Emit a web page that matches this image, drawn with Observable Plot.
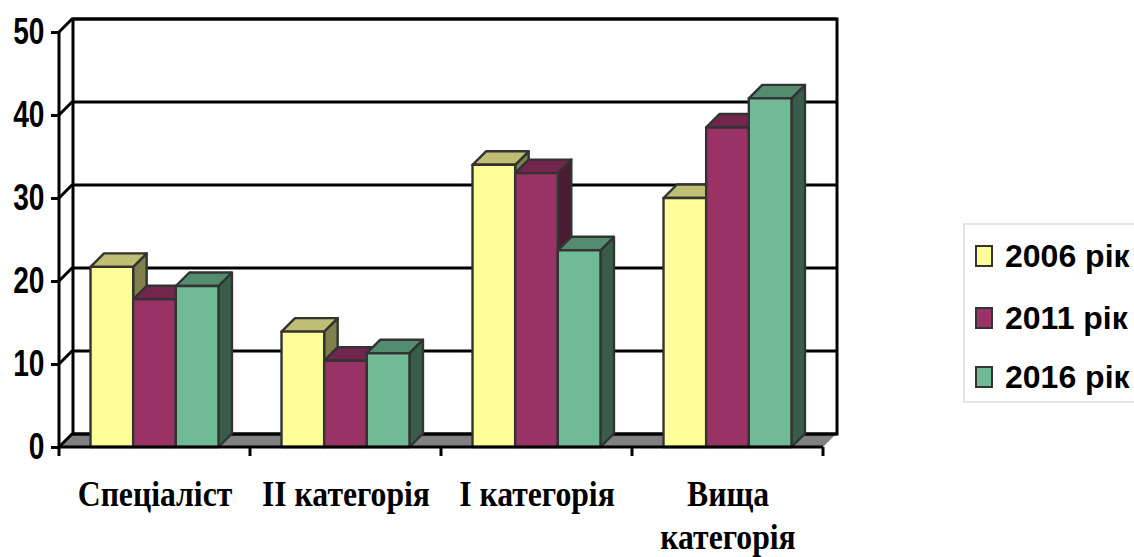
<!DOCTYPE html>
<html>
<head>
<meta charset="utf-8">
<script src="https://cdn.jsdelivr.net/npm/d3@7"></script>
<script src="https://cdn.jsdelivr.net/npm/@observablehq/plot@0.6"></script>
<style>
  html, body { margin: 0; padding: 0; background: #fff; }
  body { width: 1134px; height: 557px; overflow: hidden; position: relative; font-family: "Liberation Sans", Arial, sans-serif; }
  #chart { position: absolute; left: 0; top: 0; }
  #legend { position: absolute; left: 963px; top: 223px; width: 190px; height: 176px; border: 2px solid #e4e4e4; background: #fff; }
  .item { position: absolute; left: 10px; display: flex; align-items: center; height: 34px; }
  .sw { width: 14px; height: 18px; border: 2px solid #333; margin-right: 12px; flex: none; }
  .lab { font-weight: bold; font-size: 32px; color: #000; white-space: nowrap; line-height: 34px; }
</style>
</head>
<body>
<div id="chart"></div>
<div id="legend"></div>
<script>
// ---- data ----
const categories = ["Спеціаліст", "II категорія", "І категорія", "Вища категорія"];
const xLabels = ["Спеціаліст", "II категорія", "І категорія", "Вища\nкатегорія"];
const years = ["2006 рік", "2011 рік", "2016 рік"];
const v2006 = [21.7, 13.9, 34.0, 30.0];
const v2011 = [17.8, 10.4, 33.0, 38.5];
const v2016 = [19.4, 11.3, 23.7, 42.0];
const yTicks = [0, 10, 20, 30, 40, 50];

// ---- style ----
const frontColors = ["#FFFF99", "#993366", "#70BB95"];
const topColors = ["#BFBF73", "#73264D", "#548C70"];
const sideColors = ["#80804C", "#4D1A33", "#385E4B"];
const D = 13.5;          // 3D depth (px)
const BAR = 0.2233;      // bar width as fraction of band
const PADL = 0.165;      // left padding as fraction of band

const series = [v2006, v2011, v2016];
const rows = [];
categories.forEach((c, ci) => series.forEach((s, si) => rows.push({category: c, year: years[si], si, value: s[ci]})));

function bandw(scales, dims) {
  return scales.x.bandwidth ? scales.x.bandwidth() : (dims.width - dims.marginLeft - dims.marginRight) / categories.length;
}

// floor and depth diagonals
function scene(index, scales, values, dims) {
  const {width, marginLeft: ml, marginRight: mr} = dims;
  const y = scales.y;
  const x0 = ml, x1 = width - mr, yb = y(0);
  const g = d3.create("svg:g");
  g.append("path").attr("fill", "#808080")
    .attr("d", `M${x0},${yb}L${x1},${yb}L${x1 + D},${yb - D}L${x0 + D},${yb - D}Z`);
  for (const t of yTicks) {
    g.append("line").attr("x1", x0).attr("y1", y(t)).attr("x2", x0 + D).attr("y2", y(t) - D)
      .attr("stroke", "#000").attr("stroke-width", 3);
  }
  return g.node();
}

// front axis lines and category boundary ticks
function frontAxes(index, scales, values, dims) {
  const {width, marginLeft: ml, marginRight: mr} = dims;
  const y = scales.y;
  const x0 = ml, x1 = width - mr, yb = y(0);
  const g = d3.create("svg:g").attr("stroke", "#000").attr("stroke-width", 3);
  g.append("line").attr("x1", x0).attr("x2", x0).attr("y1", y(50)).attr("y2", yb + 1.5);
  g.append("line").attr("x1", x0).attr("x2", x1).attr("y1", yb).attr("y2", yb);
  categories.forEach((c) => {
    const xs = scales.x(c);
    g.append("line").attr("x1", xs).attr("x2", xs).attr("y1", yb).attr("y2", yb + 9);
  });
  g.append("line").attr("x1", x1).attr("x2", x1).attr("y1", yb).attr("y2", yb + 9);
  return g.node();
}

function prisms(index, scales, values, dims) {
  const bw = bandw(scales, dims);
  const geo = r => {
    const xl = scales.x(r.category) + bw * PADL + r.si * bw * BAR;
    return {xl, xr: xl + bw * BAR, yt: scales.y(r.value), yb: scales.y(0)};
  };
  const g = d3.create("svg:g").attr("stroke", "#333").attr("stroke-width", 2.4).attr("stroke-linejoin", "round");
  for (const r of rows) {
    const {xr, yt, yb} = geo(r);
    g.append("path").attr("fill", sideColors[r.si])
      .attr("d", `M${xr},${yb}L${xr},${yt}L${xr + D},${yt - D}L${xr + D},${yb - D}Z`);
  }
  for (const r of rows) {
    const {xl, xr, yt} = geo(r);
    g.append("path").attr("fill", topColors[r.si])
      .attr("d", `M${xl},${yt}L${xr},${yt}L${xr + D},${yt - D}L${xl + D},${yt - D}Z`);
  }
  for (const r of rows) {
    const {xl, xr, yt, yb} = geo(r);
    g.append("rect").attr("fill", frontColors[r.si])
      .attr("x", xl).attr("y", yt).attr("width", xr - xl).attr("height", yb - yt);
  }
  return g.node();
}

const chart = Plot.plot({
  width: 860,
  height: 557,
  marginLeft: 59,
  marginRight: 37,
  marginTop: 32,
  marginBottom: 110,
  x: {type: "band", domain: categories, padding: 0, label: null},
  y: {type: "linear", domain: [0, 50], label: null},
  marks: [
    scene,
    Plot.ruleY(yTicks, {dx: D, dy: -D, stroke: "#000", strokeWidth: 3}),
    Plot.frame({dx: D, dy: -D, stroke: "#000", strokeWidth: 3}),
    prisms,
    frontAxes,
    Plot.axisY({ticks: yTicks, tickSize: 8, tickPadding: 7, tickFormat: d => String(d), fontSize: 37, fontWeight: "bold", fontFamily: "Liberation Sans", label: null, strokeWidth: 3}),
    Plot.axisX({tickSize: 0, tickPadding: 29, tickFormat: (d) => xLabels[categories.indexOf(d)], fontSize: 36, fontWeight: "bold", fontFamily: "Liberation Serif", lineHeight: 1.17, label: null})
  ]
});

document.getElementById("chart").append(chart);

// text styling / horizontal compression as in reference
function squeeze(el, s) {
  const t = el.getAttribute("transform");
  if (t) el.setAttribute("transform", t + ` scale(${s},1)`);
  else {
    const x = +el.getAttribute("x") || 0, y = +el.getAttribute("y") || 0;
    el.removeAttribute("x"); el.removeAttribute("y");
    el.setAttribute("transform", `translate(${x},${y}) scale(${s},1)`);
  }
}
const root = d3.select(chart);
root.selectAll('g[aria-label="y-axis tick label"] text').each(function() {
  this.style.fontSize = "37px"; this.style.fontWeight = "bold"; this.style.fontFamily = "'Liberation Sans', Arial, sans-serif"; this.style.fill = "#000";
  squeeze(this, 0.76);
});
root.selectAll('g[aria-label="x-axis tick label"] text').each(function() {
  this.style.fontSize = "36px"; this.style.fontWeight = "bold"; this.style.fontFamily = "'Liberation Serif', 'Times New Roman', serif"; this.style.fill = "#000";
  squeeze(this, 0.88);
});
root.selectAll('g[aria-label="y-axis tick"]').attr("stroke", "#000").attr("stroke-width", 3);

// legend
const legend = document.getElementById("legend");
const rowCenters = [31, 93, 152];
years.forEach((yr, i) => {
  const it = document.createElement("div");
  it.className = "item";
  it.style.top = (rowCenters[i] - 17) + "px";
  const sw = document.createElement("div");
  sw.className = "sw";
  sw.style.background = frontColors[i];
  const lab = document.createElement("span");
  lab.className = "lab";
  lab.textContent = yr;
  it.append(sw, lab);
  legend.append(it);
});
</script>
</body>
</html>
